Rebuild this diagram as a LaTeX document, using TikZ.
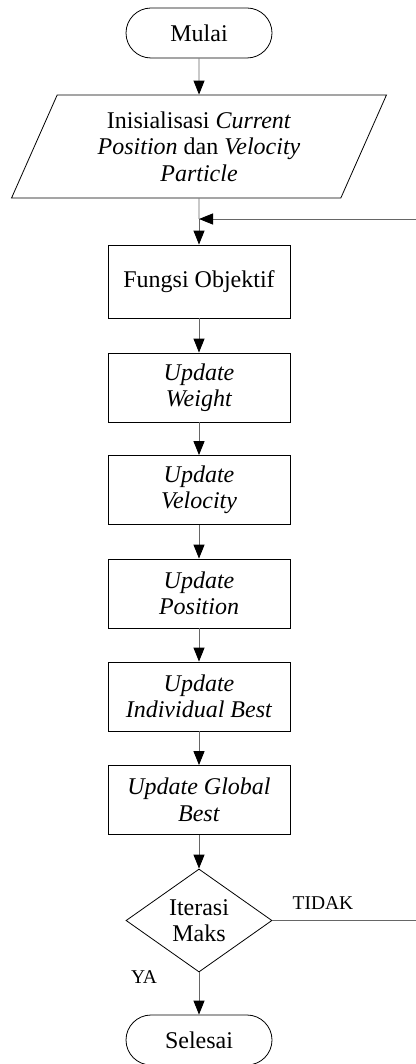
\documentclass[tikz,border=0pt]{standalone}
\usepackage{fontspec}
\setmainfont{Liberation Serif}
\usetikzlibrary{shapes.geometric,arrows.meta}
\begin{document}
\begin{tikzpicture}[x=1pt,y=-1pt,
        every node/.style={font=\fontsize{24}{26.5}\selectfont},
        terminal/.style={draw,line width=0.8pt,rounded corners=25pt,minimum width=146pt,minimum height=50pt,inner sep=0pt},
        proses/.style={draw,line width=0.8pt,minimum width=182pt,minimum height=69pt,align=center,inner sep=0pt},
        masukan/.style={draw,line width=0.8pt,trapezium,trapezium left angle=65,trapezium right angle=115,trapezium stretches=true,minimum width=376pt,minimum height=103pt,align=center,inner sep=0pt},
        keputusan/.style={draw,line width=0.8pt,diamond,aspect=1.4,minimum width=146pt,minimum height=103pt,align=center,inner sep=0pt},
        panah/.style={draw=black!60,line width=0.9pt,-{Triangle[width=11pt,length=14pt,color=black]}},
        ket/.style={font=\fontsize{19.5}{22}\selectfont}]
        \useasboundingbox (0,0) rectangle (415,1064);
        %\node (name) at (x,y) [style] {text};
        \node[terminal] (mulai) at (199,33) {Mulai};
        \node[masukan] (init) at (199,146.5) {Inisialisasi \textit{Current}\\\textit{Position} dan \textit{Velocity}\\\textit{Particle}};
        \node[proses,minimum height=73pt] (fungsi) at (199,281.5) {Fungsi Objektif};
        \node[proses] (weight) at (199,387.5) {\textit{Update}\\\textit{Weight}};
        \node[proses] (velocity) at (199,490) {\textit{Update}\\\textit{Velocity}};
        \node[proses] (position) at (199,593.5) {\textit{Update}\\\textit{Position}};
        \node[proses] (pbest) at (199,696.5) {\textit{Update}\\\textit{Individual Best}};
        \node[proses] (gbest) at (199,800) {\textit{Update Global}\\\textit{Best}};
        \node[keputusan] (iterasi) at (199,920.5) {Iterasi\\Maks};
        \node[terminal] (selesai) at (199,1040) {Selesai};
        \node[ket] (tidak) at (323,903) {TIDAK};
        \node[ket] (ya) at (144,977) {YA};
        \coordinate (gabung) at (199,219);
        \coordinate (kananatas) at (416,219);
        \coordinate (kananbawah) at (416,920.5);
        %alur utama
        \draw[panah] (mulai) -- (init);
        \draw[draw=black!60,line width=0.9pt] (init) -- (gabung);
        \draw[panah] (gabung) -- (fungsi);
        \draw[panah] (fungsi) -- (weight);
        \draw[panah] (weight) -- (velocity);
        \draw[panah] (velocity) -- (position);
        \draw[panah] (position) -- (pbest);
        \draw[panah] (pbest) -- (gbest);
        \draw[panah] (gbest) -- (iterasi);
        \draw[panah] (iterasi) -- (selesai);
        %ulang
        \draw[panah] (iterasi.east) -- (kananbawah) -- (kananatas) -- (gabung);
\end{tikzpicture}
\end{document}
